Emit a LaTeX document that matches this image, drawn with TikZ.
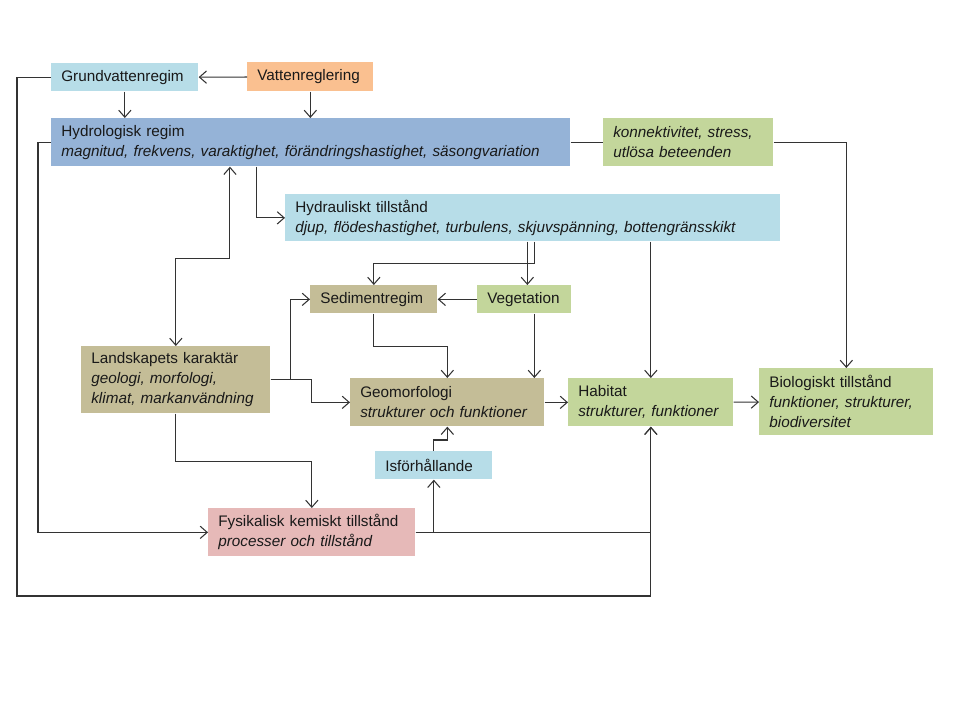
\documentclass[tikz,border=0pt]{standalone}
\usepackage{fontspec}
\setmainfont{Liberation Sans}
\usetikzlibrary{arrows.meta}
\definecolor{aqua}{RGB}{183,221,232}
\definecolor{peach}{RGB}{250,192,144}
\definecolor{steel}{RGB}{149,179,215}
\definecolor{leaf}{RGB}{195,214,155}
\definecolor{khaki}{RGB}{196,189,151}
\definecolor{rose}{RGB}{230,185,184}
\begin{document}
\begin{tikzpicture}
  [x=0.02cm,y=-0.02cm,
   every node/.style={anchor=north west,inner xsep=0.2cm,inner ysep=0pt,align=left,
     font=\fontsize{8.7}{11.4}\selectfont,text=black!90},
   blk/.style={fill=#1},
   link/.style={draw=black!80,line width=0.6pt},
   >={Straight Barb[length=4pt,width=7pt]}]
  \useasboundingbox (0,0) rectangle (960,720);

  \node[blk=aqua,text width=2.54cm,minimum height=0.56cm] (gw) at (51,63) {Grundvattenregim};
  \node[blk=peach,text width=2.12cm,minimum height=0.58cm] (vr) at (247,62) {Vattenreglering};
  \node[blk=steel,text width=9.98cm,minimum height=0.96cm] (hr) at (51,118)
    {Hydrologisk regim\\\textit{magnitud, frekvens, varaktighet, förändringshastighet, säsongvariation}};
  \node[blk=leaf,text width=3.0cm,minimum height=0.96cm] (kon) at (603,118)
    {\textit{konnektivitet, stress,}\\\textit{utlösa beteenden}};
  \node[blk=aqua,text width=9.5cm,minimum height=0.94cm] (ht) at (285,194)
    {Hydrauliskt tillstånd\\\textit{djup, flödeshastighet, turbulens, skjuvspänning, bottengränsskikt}};
  \node[blk=khaki,text width=2.14cm,minimum height=0.56cm] (sr) at (310,285) {Sedimentregim};
  \node[blk=leaf,text width=1.48cm,minimum height=0.56cm] (veg) at (477,285) {Vegetation};
  \node[blk=khaki,text width=3.38cm,minimum height=1.34cm] (lk) at (81,346)
    {Landskapets karaktär\\\textit{geologi, morfologi,}\\\textit{klimat, markanvändning}};
  \node[blk=khaki,text width=3.48cm,minimum height=0.96cm] (geo) at (350,378)
    {Geomorfologi\\\textit{strukturer och funktioner}};
  \node[blk=leaf,text width=2.9cm,minimum height=0.96cm] (hab) at (568,378)
    {Habitat\\\textit{strukturer, funktioner}};
  \node[blk=leaf,text width=3.08cm,minimum height=1.34cm] (bio) at (759,368)
    {Biologiskt tillstånd\\\textit{funktioner, strukturer,}\\\textit{biodiversitet}};
  \node[blk=aqua,text width=1.94cm,minimum height=0.56cm] (is) at (375,451) {Isförhållande};
  \node[blk=rose,text width=3.74cm,minimum height=0.96cm] (fk) at (208,508)
    {Fysikalisk kemiskt tillstånd\\\textit{processer och tillstånd}};

  \coordinate (loop) at (17,596);

  \foreach \from/\to in {vr/gw,veg/sr,geo/hab,hab/bio}
    \draw[link,->] (\from) -- (\to);
  \draw[link] (hr.east) -- (kon.west);

  \draw[link,->] (gw.south) -- (gw.south |- hr.north);
  \draw[link,->] (vr.south) -- (vr.south |- hr.north);
  \draw[link,->] (gw.west) -| (loop) -| (hab.south);
  \draw[link,->] (hr.west) -- ++(-13,0) |- (fk.west);
  \draw[link,->] ([xshift=4.12cm]hr.south west) |- (ht.west);
  \draw[link,<->] (lk.north) |- ([xshift=3.58cm,yshift=-1.84cm]hr.south west)
    -- ([xshift=3.58cm]hr.south west);
  \draw[link,->] (kon.east) -| (bio.north);
  \draw[link,->] ([xshift=5.0cm]ht.south west) -- ++(0,22) -| (sr.north);
  \draw[link,->] ([xshift=0.06cm]veg.north |- ht.south) -- ([xshift=0.06cm]veg.north);
  \draw[link,->] (hab.north |- ht.south) -- (hab.north);
  \draw[link,->] (sr.south) -- ++(0,33) -| (geo.north);
  \draw[link,->] ([xshift=0.2cm]veg.south) -- ([xshift=0.2cm]veg.south |- geo.north);
  \draw[link,->] (lk.east) -- ++(20,0) |- (sr.west);
  \draw[link,->] (lk.east) -- ++(41,0) |- (geo.west);
  \draw[link,->] (lk.south) -- ++(0,48) -| (fk.north);
  \draw[link,->] (fk.east) -| (is.south);
  \draw[link,->] (fk.east) -| (hab.south);
  \draw[link,->] (is.north) -- ++(0,-11) -| (geo.south);

\end{tikzpicture}
\end{document}
